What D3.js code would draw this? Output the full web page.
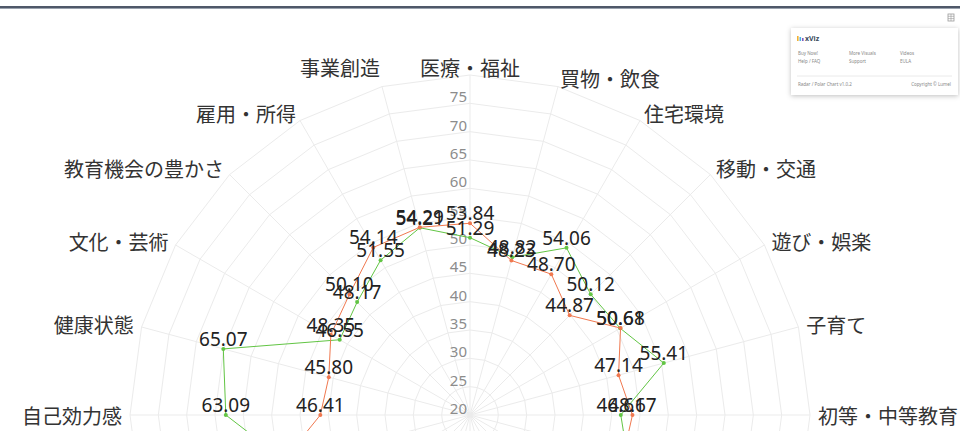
<!DOCTYPE html>
<html>
<head>
<meta charset="utf-8">
<script src="https://cdn.jsdelivr.net/npm/d3@7"></script>
<style>
    html, body { margin: 0; padding: 0; background: #fff; overflow: hidden; }
    #chart { width: 960px; height: 431px; }
</style>
</head>
<body>
<div id="chart"></div>
<script>
// 24 categories, clockwise from the top
const categories = [
    "医療・福祉", "買物・飲食", "住宅環境", "移動・交通", "遊び・娯楽", "子育て",
    "初等・中等教育", "地域行政", "デジタル生活", "公共空間", "都市景観", "自然景観",
    "自然の恵み", "環境共生", "自然災害", "事故・犯罪", "地域とのつながり", "多様性と寛容性",
    "自己効力感", "健康状態", "文化・芸術", "教育機会の豊かさ", "雇用・所得", "事業創造"
];

// orange series
const seriesA = [
    53.84, 48.23, 48.70, 44.87, 50.68, 47.14,
    48.67, 48.00, 50.20, 49.50, 50.40, 51.00,
    50.80, 49.90, 51.50, 52.30, 53.60, 54.90,
    46.41, 45.80, 48.35, 50.10, 54.14, 54.29
];

// green series
const seriesB = [
    51.29, 48.82, 54.06, 50.12, 50.61, 55.41,
    46.61, 48.80, 49.70, 50.60, 51.20, 52.40,
    51.80, 50.50, 52.10, 50.90, 52.00, 53.10,
    63.09, 65.07, 46.55, 48.17, 51.55, 54.21
];

const tickValues = [20, 25, 30, 35, 40, 45, 50, 55, 60, 65, 70, 75];
const gridValues = [25, 30, 35, 40, 45, 50, 55, 60, 65, 70, 75, 80];

const width = 960;
const height = 431;
const cx = 470;
const cy = 415;
const radius = 340;

const svg = d3.select("#chart")
    .append("svg")
    .attr("width", width)
    .attr("height", height)
    .style("font-family", "'Noto Sans', 'Noto Sans CJK JP', sans-serif");

// top bar of the host page
svg.append("rect").attr("x", 0).attr("y", 6).attr("width", width).attr("height", 2).attr("fill", "#4f5869");
svg.append("rect").attr("x", 0).attr("y", 8).attr("width", width).attr("height", 1).attr("fill", "#9aa2ae");

const r = d3.scaleLinear().domain([20, 80]).range([0, radius]);
const angle = d3.scalePoint()
    .domain(categories)
    .range([0, 2 * Math.PI * (categories.length - 1) / categories.length]);

const g = svg.append("g").attr("transform", `translate(${cx},${cy})`);

// grid polygons
const ring = d3.lineRadial()
    .angle(d => angle(d))
    .curve(d3.curveLinearClosed);

gridValues.forEach(v => {
    g.append("path")
        .attr("d", ring.radius(() => r(v))(categories))
        .attr("fill", "none")
        .attr("stroke", "#ebebeb")
        .attr("stroke-width", 1);
});

// spokes
categories.forEach(c => {
    const a = angle(c);
    g.append("line")
        .attr("x1", 0).attr("y1", 0)
        .attr("x2", r(80) * Math.sin(a))
        .attr("y2", -r(80) * Math.cos(a))
        .attr("stroke", "#ebebeb")
        .attr("stroke-width", 1);
});

// category labels
categories.forEach((c, i) => {
    const a = angle(c);
    const s = Math.sin(a);
    const lr = radius + 8;
    let y = -lr * Math.cos(a);
    if (i === categories.length - 1) y -= 11; // last label sits higher in the original
    g.append("text")
        .attr("x", lr * s)
        .attr("y", y)
        .attr("dominant-baseline", "central")
        .attr("text-anchor", Math.abs(s) < 0.01 ? "middle" : (s > 0 ? "start" : "end"))
        .style("font-family", "'Noto Sans CJK JP', sans-serif")
        .style("font-size", "20px")
        .style("fill", "#333")
        .text(c);
});

// radial tick labels
tickValues.forEach(v => {
    g.append("text")
        .attr("x", -3)
        .attr("y", -r(v) - 1)
        .attr("text-anchor", "end")
        .style("font-size", "15px")
        .style("fill", "#8c8c8c")
        .text(v);
});

// series
const series = [
    { values: seriesB, color: "#62c544" },
    { values: seriesA, color: "#f0784f" }
];

const line = d3.lineRadial()
    .angle((d, i) => angle(categories[i]))
    .radius(d => r(d))
    .curve(d3.curveLinearClosed);

series.forEach(s => {
    g.append("path")
        .attr("d", line(s.values))
        .attr("fill", "none")
        .attr("stroke", s.color)
        .attr("stroke-width", 1);

    s.values.forEach((v, i) => {
        const a = angle(categories[i]);
        g.append("circle")
            .attr("cx", r(v) * Math.sin(a))
            .attr("cy", -r(v) * Math.cos(a))
            .attr("r", 2)
            .attr("fill", s.color);
    });
});

// data labels on top
series.forEach(s => {
    s.values.forEach((v, i) => {
        const a = angle(categories[i]);
        g.append("text")
            .attr("x", r(v) * Math.sin(a))
            .attr("y", -r(v) * Math.cos(a) - 3)
            .attr("text-anchor", "middle")
            .style("font-size", "19px")
            .style("fill", "#222")
            .text(v.toFixed(2));
    });
});

// small menu icon
const icon = svg.append("g").attr("transform", "translate(948,14)");
icon.append("rect").attr("width", 6).attr("height", 7).attr("fill", "#fff").attr("stroke", "#999").attr("stroke-width", 0.8);
[2.3, 4.6].forEach(y => icon.append("line").attr("x1", 0).attr("x2", 6).attr("y1", y).attr("y2", y).attr("stroke", "#999").attr("stroke-width", 0.6));
icon.append("line").attr("x1", 3).attr("x2", 3).attr("y1", 0).attr("y2", 7).attr("stroke", "#999").attr("stroke-width", 0.6);

// xViz popup
const defs = svg.append("defs");
const f = defs.append("filter").attr("id", "shadow").attr("x", "-20%").attr("y", "-30%").attr("width", "140%").attr("height", "160%");
f.append("feDropShadow").attr("dx", 0).attr("dy", 1).attr("stdDeviation", 2.5).attr("flood-color", "#000").attr("flood-opacity", 0.25);

const pop = svg.append("g").attr("transform", "translate(791,28)");
pop.append("rect")
    .attr("width", 167)
    .attr("height", 67)
    .attr("fill", "#fff")
    .attr("filter", "url(#shadow)");

["#f2b134", "#4fb0e0", "#7c5cc4"].forEach((c, i) => {
    pop.append("rect").attr("x", 6 + i * 2.5).attr("y", 8 + i).attr("width", 1.6).attr("height", 5 - i).attr("fill", c);
});
pop.append("text").attr("x", 14).attr("y", 13).style("font-size", "7px").style("font-weight", "bold").style("fill", "#3a4a5c").text("xViz");

const menu = [["Buy Now!", "More Visuals", "Videos"], ["Help / FAQ", "Support", "EULA"]];
menu.forEach((row, j) => {
    row.forEach((t, k) => {
        pop.append("text")
            .attr("x", 7 + k * 51)
            .attr("y", 27 + j * 8)
            .style("font-size", "4.5px")
            .style("fill", "#888")
            .text(t);
    });
});
pop.append("line").attr("x1", 6).attr("x2", 161).attr("y1", 48).attr("y2", 48).attr("stroke", "#e4e4e4").attr("stroke-width", 0.8);
pop.append("text").attr("x", 7).attr("y", 58).style("font-size", "4.5px").style("fill", "#888").text("Radar / Polar Chart v1.0.2");
pop.append("text").attr("x", 160).attr("y", 58).attr("text-anchor", "end").style("font-size", "4.5px").style("fill", "#888").text("Copyright © Lumel");
</script>
</body>
</html>
